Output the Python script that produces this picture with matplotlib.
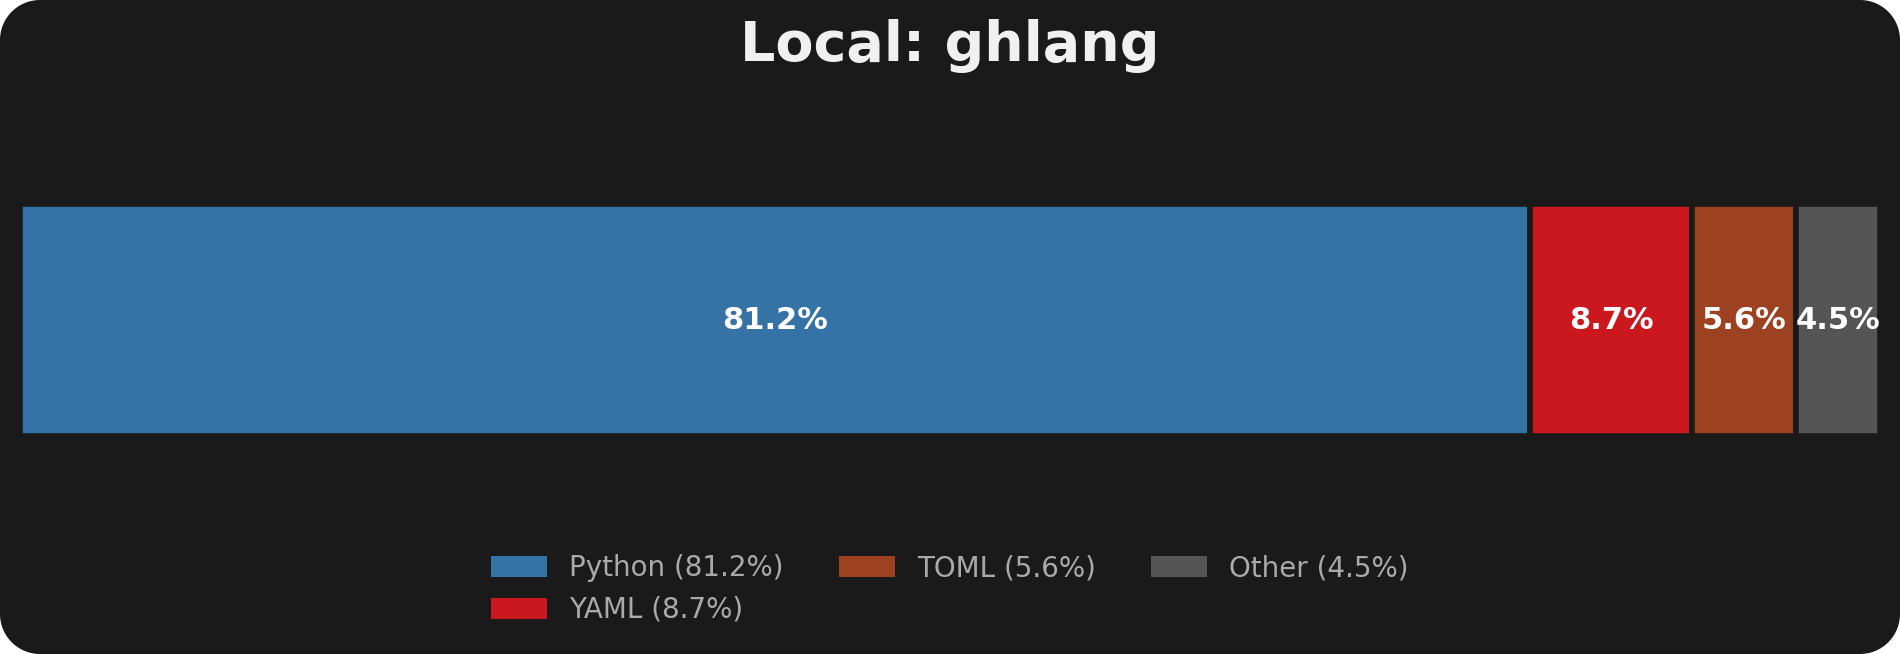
import numpy as np
import matplotlib.pyplot as plt
from matplotlib.patches import Polygon, Patch
from matplotlib.transforms import IdentityTransform

# ── DATA ──────────────────────────────────────────────────────────────
languages = ["Python", "YAML", "TOML", "Other"]
shares    = [81.2, 8.7, 5.6, 4.5]
colors    = ["#3572a5", "#cb171e", "#9c4221", "#555555"]

BG  = "#1a1a1a"
DPI = 200

# ── FIGURE ────────────────────────────────────────────────────────────
fig = plt.figure(figsize=(9.5, 3.27), dpi=DPI)
fig.patch.set_facecolor("white")

# rounded dark card behind everything (pixel coords, circular corners)
W, H, R = 9.5 * DPI, 3.27 * DPI, 40
corners = [(W - R, R, -90), (W - R, H - R, 0), (R, H - R, 90), (R, R, 180)]
pts = []
for cx, cy, start in corners:
    a = np.radians(np.linspace(start, start + 90, 30))
    pts += list(zip(cx + R * np.cos(a), cy + R * np.sin(a)))
card = Polygon(pts, closed=True, transform=IdentityTransform(),
               facecolor=BG, edgecolor="none", zorder=-10)
fig.patches.append(card)

ax = fig.add_axes([19.75 / 1900, 1 - 490.5 / 654, 1860.25 / 1900, 340.5 / 654])
ax.patch.set_alpha(0)

left = 0
for lang, val, col in zip(languages, shares, colors):
    ax.barh(0, val, left=left, height=0.68, color=col,
            edgecolor=BG, linewidth=2)
    ax.text(left + val / 2, 0, f"{val}%", ha="center", va="center",
            color="white", fontsize=11, fontweight="bold")
    left += val

ax.set_xlim(0, 100)
ax.set_ylim(-0.5, 0.5)
ax.axis("off")

fig.text(0.5, 1 - 46 / 654, "Local: ghlang", ha="center", va="center",
         color="#f0f0f0", fontsize=20, fontweight="bold")

handles = [Patch(facecolor=c, edgecolor="none") for c in colors]
labels  = [f"{l} ({v}%)" for l, v in zip(languages, shares)]
fig.legend(handles, labels, loc="upper center", ncol=3,
           bbox_to_anchor=(0.5, 1 - 529 / 654), frameon=False,
           fontsize=10, labelcolor="#aaaaaa", handleheight=0.78)

fig.savefig("out.png", dpi=DPI, facecolor=fig.get_facecolor())
